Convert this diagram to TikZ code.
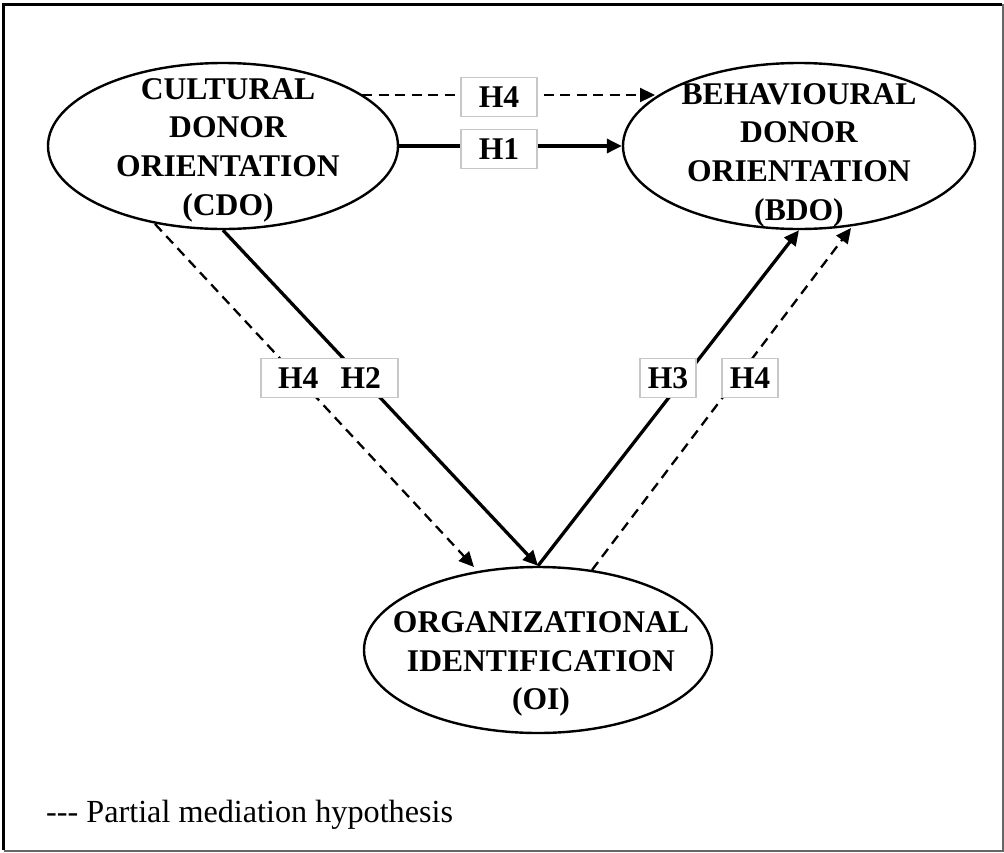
\documentclass[tikz,border=0pt]{standalone}
\usepackage{fontspec}
\setmainfont{Liberation Serif}
\usetikzlibrary{arrows.meta,shapes.geometric}

\begin{document}
\begin{tikzpicture}[x=1pt,y=-1pt,
  construct/.style={ellipse, draw, line width=2.4pt, inner sep=0pt, minimum height=166pt},
  cname/.style={font=\fontsize{31.6}{38.7}\selectfont\bfseries, align=center, inner sep=0pt},
  hyp/.style={draw=black!22, line width=1.2pt, fill=white, inner xsep=0pt, inner ysep=9pt,
              text height=21pt, text depth=0pt, font=\fontsize{31.6}{36}\selectfont\bfseries},
  tip/.style={-{Triangle[length=15pt,width=14pt]}},
  direct/.style={tip, line width=3.3pt},
  partial/.style={tip, line width=2.3pt, dash pattern=on 10pt off 6.5pt},
]
\useasboundingbox (0,0) rectangle (1004,852);

% outer frame
\draw[line width=3pt, black] (1002,4) -- (3.5,4) -- (3.5,850);
\draw[line width=2pt, black!60] (3.5,850.5) -- (1002.5,850.5) -- (1002.5,4);

% constructs
\node[construct, minimum width=350pt] (cdo) at (223,146) {};
\node[construct, minimum width=352pt] (bdo) at (799,146) {};
\node[construct, minimum width=348pt] (oi)  at (538,650) {};

\node[cname] (cdotext) at (228,150) {CULTURAL\\DONOR\\ORIENTATION\\(CDO)};
\node[cname] (bdotext) at (799,155) {BEHAVIOURAL\\DONOR\\ORIENTATION\\(BDO)};
\node[cname] (oitext)  at (541,664) {ORGANIZATIONAL\\IDENTIFICATION\\(OI)};

% end points of the partial-mediation paths
\coordinate (cdoTop)  at (362,95);
\coordinate (bdoTop)  at (655,95);
\coordinate (cdoLow)  at (155,224);
\coordinate (oiLeft)  at (474,567);
\coordinate (oiRight) at (592,570);
\coordinate (bdoLow)  at (851,228);

% hypothesised paths
\draw[partial] (cdoTop) -- (bdoTop);
\draw[direct]  (cdo.east) -- (bdo.west);
\draw[partial] (cdoLow) -- (oiLeft);
\draw[direct]  (cdo.south) -- (oi.north);
\draw[direct]  (oi.north) -- (bdo.south);
\draw[partial] (oiRight) -- (bdoLow);

% hypothesis labels
\node[hyp, minimum width=76pt] (h4a) at (499,97)  {H4};
\node[hyp, minimum width=76pt] (h1)  at (499,149) {H1};
\node[hyp, minimum width=137pt] (h42) at (329.5,378) {H4\hspace{22pt}H2};
\node[hyp, minimum width=56pt] (h3)  at (668,378) {H3};
\node[hyp, minimum width=56pt] (h4c) at (750,378) {H4};

% legend
\node[anchor=base west, inner sep=0pt, font=\fontsize{32.2}{36}\selectfont] (legend)
  at (46,822) {-{}-{}- Partial mediation hypothesis};
\end{tikzpicture}
\end{document}
